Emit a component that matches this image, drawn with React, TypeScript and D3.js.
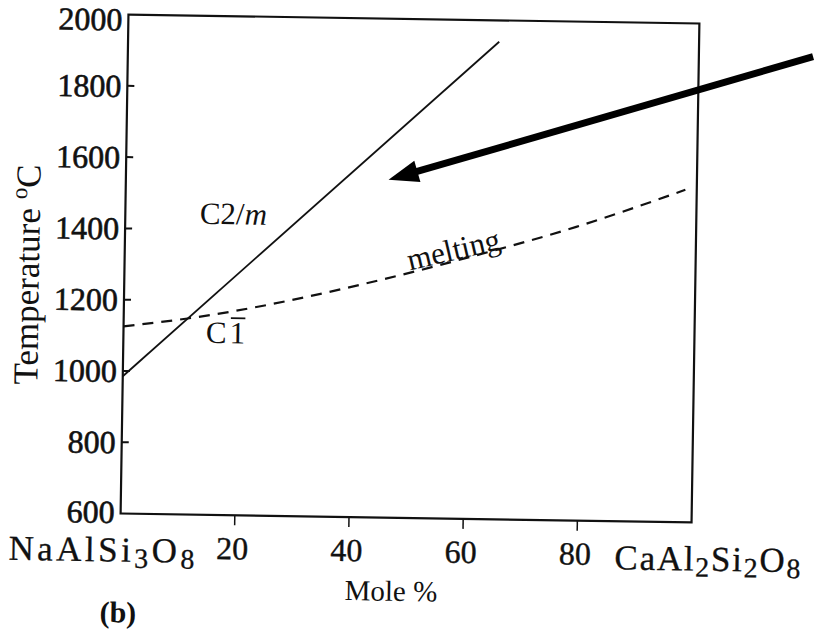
import * as d3 from "d3";
import { useEffect, useRef } from "react";

// Temperature axis (y) and composition axis (x)
const tempTicks = [600, 800, 1000, 1200, 1400, 1600, 1800, 2000];
const moleTicks = [20, 40, 60, 80];

// C2/m <-> C-1 transition (solid line)
const transitionMole = [0, 65];
const transitionTemp = [985, 1940];

// melting curve (dashed)
const meltingMole = [0, 12, 45, 62, 79, 98];
const meltingTemp = [1125, 1152, 1267, 1342, 1424, 1533];

// arrow annotation: tip and tail in data units
const arrowMole = [46, 120];
const arrowTemp = [1548, 1912];

const W = 815;
const H = 643;
const FONT = "'Liberation Serif', 'Times New Roman', serif";

const App = () => {
  const svgRef = useRef<SVGSVGElement | null>(null);

  useEffect(() => {
    if (!svgRef.current) return;
    const svg = d3.select(svgRef.current);
    svg.selectAll("*").remove();

    const left = 124.5;
    const right = 695.5;
    const top = 19;
    const bottom = 518;

    const x = d3.scaleLinear().domain([0, 100]).range([left, right]);
    const y = d3.scaleLinear().domain([600, 2000]).range([bottom, top]);

    svg.append("rect").attr("width", W).attr("height", H).attr("fill", "#fff");

    // the scan is tilted a little
    const g = svg
      .append("g")
      .attr("transform", `rotate(0.9, ${(left + right) / 2}, ${(top + bottom) / 2})`)
      .attr("font-family", FONT)
      .attr("fill", "#111");

    // frame
    g.append("rect")
      .attr("x", left)
      .attr("y", top)
      .attr("width", right - left)
      .attr("height", bottom - top)
      .attr("fill", "none")
      .attr("stroke", "#111")
      .attr("stroke-width", 2.2);

    // y ticks (inside) and labels
    g.selectAll("line.yt")
      .data(tempTicks.filter((d) => d > 600 && d < 2000))
      .enter()
      .append("line")
      .attr("x1", left)
      .attr("x2", left + 7)
      .attr("y1", (d) => y(d))
      .attr("y2", (d) => y(d))
      .attr("stroke", "#111")
      .attr("stroke-width", 2);

    g.selectAll("text.yl")
      .data(tempTicks)
      .enter()
      .append("text")
      .attr("x", left - 6)
      .attr("y", (d) => y(d))
      .attr("dy", (d) => (d === 2000 ? "0.5em" : d === 600 ? "0.3em" : "0.35em"))
      .attr("text-anchor", "end")
      .attr("font-size", 32)
      .attr("stroke", "#111")
      .attr("stroke-width", 0.6)
      .text((d) => d);

    // x ticks (outside) and labels
    g.selectAll("line.xt")
      .data(moleTicks)
      .enter()
      .append("line")
      .attr("x1", (d) => x(d))
      .attr("x2", (d) => x(d))
      .attr("y1", bottom)
      .attr("y2", bottom + 10)
      .attr("stroke", "#111")
      .attr("stroke-width", 1.5);

    g.selectAll("text.xl")
      .data(moleTicks)
      .enter()
      .append("text")
      .attr("x", (d) => x(d) - 2)
      .attr("y", bottom + 44)
      .attr("text-anchor", "middle")
      .attr("font-size", 32)
      .attr("stroke", "#111")
      .attr("stroke-width", 0.4)
      .text((d) => d);

    // end-member labels with subscripts
    const formula = (parts: [string, boolean][], xPos: number, span: number) => {
      const t = g
        .append("text")
        .attr("x", xPos)
        .attr("y", bottom + 48)
        .attr("font-size", 35)
        .attr("stroke", "#111")
        .attr("stroke-width", 0.3)
        .attr("textLength", span)
        .attr("lengthAdjust", "spacing");
      let sub = false;
      parts.forEach(([s, isSub]) => {
        const ts = t.append("tspan").text(s);
        if (isSub) ts.attr("font-size", 28);
        if (isSub !== sub) ts.attr("dy", isSub ? 6 : -6);
        sub = isSub;
      });
    };
    formula(
      [
        ["NaAlSi", false],
        ["3", true],
        ["O", false],
        ["8", true],
      ],
      13,
      186
    );
    formula(
      [
        ["CaAl", false],
        ["2", true],
        ["Si", false],
        ["2", true],
        ["O", false],
        ["8", true],
      ],
      619,
      186
    );

    g.append("text")
      .attr("x", 396)
      .attr("y", 601)
      .attr("text-anchor", "middle")
      .attr("font-size", 29)
      .text("Mole %");

    g.append("text")
      .attr("x", 105)
      .attr("y", 627)
      .attr("font-size", 30)
      .attr("font-weight", "bold")
      .text("(b)");

    // y title
    const yt = g
      .append("text")
      .attr("transform", `translate(39, ${(top + bottom) / 2 + 12}) rotate(-90)`)
      .attr("text-anchor", "middle")
      .attr("font-size", 35);
    yt.append("tspan").text("Temperature ");
    yt.append("tspan").attr("font-size", 23).attr("dy", -13).text("o");
    yt.append("tspan").attr("dy", 13).text("C");

    // transition line
    const line = d3
      .line<[number, number]>()
      .x((d) => x(d[0]))
      .y((d) => y(d[1]));
    g.append("path")
      .attr("d", line(d3.zip(transitionMole, transitionTemp) as [number, number][]))
      .attr("fill", "none")
      .attr("stroke", "#111")
      .attr("stroke-width", 1.8);

    // melting curve
    const curve = line.curve(d3.curveMonotoneX);
    g.append("path")
      .attr("d", curve(d3.zip(meltingMole, meltingTemp) as [number, number][]))
      .attr("fill", "none")
      .attr("stroke", "#111")
      .attr("stroke-width", 2.2)
      .attr("stroke-dasharray", "11 8");

    // phase labels
    const c2m = g.append("text").attr("x", 199).attr("y", 227).attr("font-size", 31);
    c2m.append("tspan").text("C2/");
    c2m.append("tspan").attr("font-style", "italic").text("m");

    const cx0 = 207;
    const cy0 = 346;
    const cText = g.append("text").attr("x", cx0).attr("y", cy0).attr("font-size", 31).text("C");
    const cw = (cText.node() as SVGTextElement).getComputedTextLength();
    const oneText = g
      .append("text")
      .attr("x", cx0 + cw + 3)
      .attr("y", cy0)
      .attr("font-size", 31)
      .text("1");
    const ow = (oneText.node() as SVGTextElement).getComputedTextLength();
    g.append("line")
      .attr("x1", cx0 + cw + 4)
      .attr("x2", cx0 + cw + 3 + ow)
      .attr("y1", cy0 - 25)
      .attr("y2", cy0 - 25)
      .attr("stroke", "#111")
      .attr("stroke-width", 1.8);

    const mx = x(58);
    const my = y(1318) - 3;
    g.append("text")
      .attr("transform", `translate(${mx}, ${my}) rotate(-14)`)
      .attr("text-anchor", "middle")
      .attr("font-size", 31)
      .text("melting");

    // arrow
    const tip: [number, number] = [x(arrowMole[0]), y(arrowTemp[0])];
    const tail: [number, number] = [x(arrowMole[1]), y(arrowTemp[1])];
    const dx = tail[0] - tip[0];
    const dy = tail[1] - tip[1];
    const len = Math.hypot(dx, dy);
    const ux = dx / len;
    const uy = dy / len;
    const headLen = 30;
    const headW = 11;
    const base: [number, number] = [tip[0] + ux * headLen, tip[1] + uy * headLen];
    g.append("line")
      .attr("x1", base[0] - ux * 2)
      .attr("y1", base[1] - uy * 2)
      .attr("x2", tail[0])
      .attr("y2", tail[1])
      .attr("stroke", "#000")
      .attr("stroke-width", 7);
    g.append("path")
      .attr(
        "d",
        `M${tip[0]},${tip[1]}L${base[0] - uy * headW},${base[1] + ux * headW}L${base[0] + uy * headW},${
          base[1] - ux * headW
        }Z`
      )
      .attr("fill", "#000");
  }, []);

  return (
    <svg
      ref={svgRef}
      width={W}
      height={H}
      style={{ position: "absolute", left: 0, top: 0, display: "block" }}
    />
  );
};

export default App;
